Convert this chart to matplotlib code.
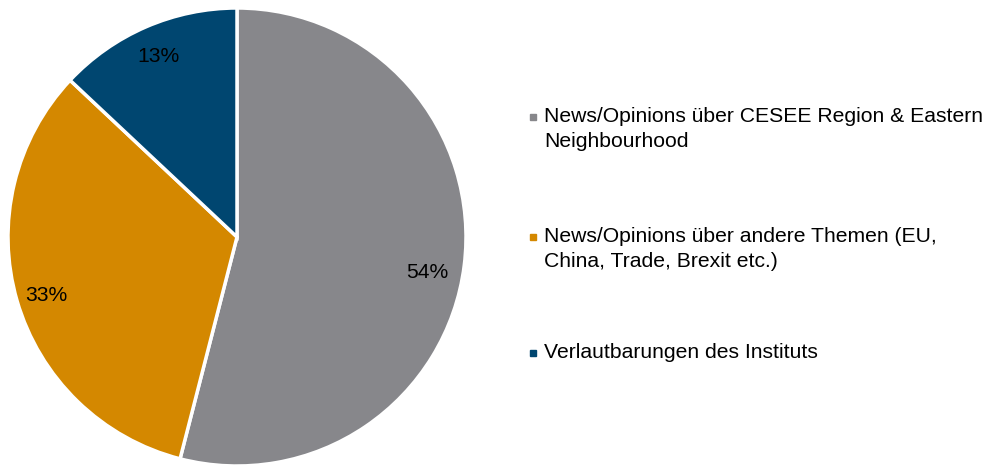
import numpy as np
import matplotlib.pyplot as plt
from matplotlib.patches import Rectangle

plt.rcParams['font.family'] = ['Liberation Sans', 'DejaVu Sans']

# shares of published items
labels = ["News/Opinions über CESEE Region & Eastern\nNeighbourhood",
          "News/Opinions über andere Themen (EU,\nChina, Trade, Brexit etc.)",
          "Verlautbarungen des Instituts"]
shares = [54, 33, 13]
colors = ["#87878b", "#d48800", "#004670"]

W, H = 992, 465
fig = plt.figure(figsize=(W / 100, H / 100), dpi=100)

# pie centred at (237, 237) px, radius 229 px
cx, cy, r = 237, 237, 229
ax = fig.add_axes([(cx - r) / W, (H - cy - r) / H, 2 * r / W, 2 * r / H])
wedges, texts, autotexts = ax.pie(
    shares, colors=colors, startangle=90, counterclock=False,
    autopct='%d%%', pctdistance=0.86, radius=1,
    wedgeprops=dict(edgecolor='white', linewidth=2.5),
    textprops=dict(fontsize=15.25, color='black'))
ax.set_xlim(-1, 1)
ax.set_ylim(-1, 1)
ax.set_aspect('equal')
ax.axis('off')

# nudge the labels a little along the arc
shift = [-3.5, 1, 0]
dist = [0.845, 0.87, 0.86]
for w, t, s, d in zip(wedges, autotexts, shift, dist):
    a = np.deg2rad((w.theta1 + w.theta2) / 2 + s)
    t.set_position((d * np.cos(a), d * np.sin(a)))

# legend on the right, square marker beside first line of each entry
baselines = [122, 242, 358]
line_h = 25
for lab, col, y in zip(labels, colors, baselines):
    fig.add_artist(Rectangle((530 / W, (H - y + 2) / H), 6 / W, 6 / H,
                             transform=fig.transFigure, color=col))
    n = lab.count("\n")
    # va='baseline' pins the last line, so offset by the extra lines
    fig.text(544 / W, (H - y - n * line_h) / H, lab, fontsize=15.25,
             va='baseline', ha='left', linespacing=1.4)

fig.savefig("out.png", dpi=100)
